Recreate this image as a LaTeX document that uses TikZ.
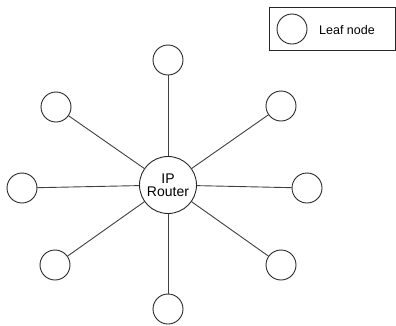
\documentclass[tikz,border=0pt]{standalone}
\usepackage{fontspec}
\setmainfont{Liberation Sans}
\begin{document}
\begin{tikzpicture}[x=1pt,y=-1pt,
  leaf/.style={circle,draw=black!85,line width=0.9pt,minimum size=30pt,inner sep=0pt},
  router/.style={circle,draw=black!85,line width=0.9pt,minimum size=57pt,inner sep=0pt,
    align=center,font=\fontsize{14}{15}\selectfont},
  link/.style={draw=black!75,line width=0.9pt}]
\useasboundingbox (0,0) rectangle (396,325);
% hub
\node[router] (r) at (168,185) {IP\\[-2pt]Router};
% leaves
\node[leaf] (n)  at (168,60)  {};
\node[leaf] (ne) at (281,106) {};
\node[leaf] (e)  at (307,188) {};
\node[leaf] (se) at (281,265) {};
\node[leaf] (s)  at (168,309) {};
\node[leaf] (sw) at (55,265)  {};
\node[leaf] (w)  at (22,188)  {};
\node[leaf] (nw) at (56,107)  {};
% spokes
\foreach \k in {n,ne,e,se,s,sw,w,nw}
  \draw[link] (r) -- (\k);
% legend
\node[draw=black!85,line width=0.9pt,minimum width=126pt,minimum height=43pt,inner sep=0pt]
  (legend) at (332,29) {};
\node[leaf] (lc) at (292,29) {};
\node[anchor=west,font=\fontsize{12.5}{14}\selectfont,inner sep=0pt] (lt) at (319,30) {Leaf node};
\end{tikzpicture}
\end{document}
